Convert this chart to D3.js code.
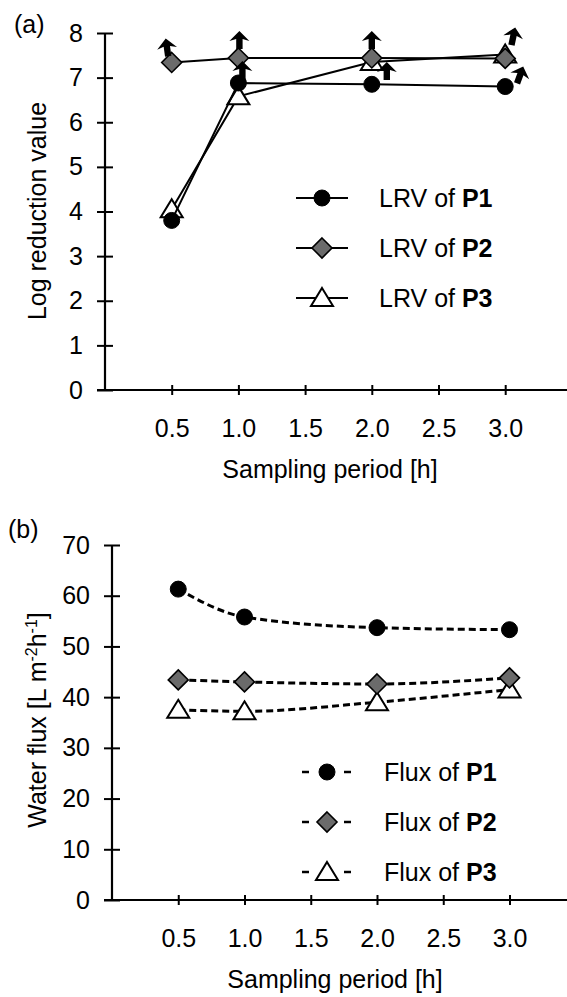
<!DOCTYPE html>
<html>
<head>
<meta charset="utf-8">
<script src="https://cdn.jsdelivr.net/npm/d3@7"></script>
<style>
  body { margin: 0; background: #fff; }
  text { font-family: "Liberation Sans", Arial, sans-serif; fill: #000; }
</style>
</head>
<body>
<svg id="chart" width="567" height="997"></svg>
<script>
// sampling periods [h]
var periods = [0.5, 1.0, 2.0, 3.0];
var xTicks = [0.5, 1.0, 1.5, 2.0, 2.5, 3.0];

// (a) log reduction values
var lrvP1 = [3.8, 6.88, 6.85, 6.8];
var lrvP2 = [7.34, 7.44, 7.44, 7.43];
var lrvP3 = [4.05, 6.58, 7.35, 7.52];
// values that are "greater than" (detection limit reached)
var moreP1 = [false, true, false, true];
var moreP2 = [true, true, true, true];
var moreP3 = [false, false, true, false];

// (b) water flux [L m-2 h-1]
var fluxP1 = [61.3, 55.8, 53.7, 53.3];
var fluxP2 = [43.4, 43.0, 42.6, 43.8];
var fluxP3 = [37.5, 37.2, 39.0, 41.5];

var svg = d3.select("#chart");

// marker drawing
function marker(g, type, cx, cy) {
  if (type == "circle") {
    g.append("circle").attr("cx", cx).attr("cy", cy).attr("r", 8)
      .attr("fill", "#000").attr("stroke", "#000");
  } else if (type == "diamond") {
    g.append("path").attr("transform", `translate(${cx},${cy})`)
      .attr("d", "M0,-10L10,0L0,10L-10,0Z")
      .attr("fill", "#6b6b6b").attr("stroke", "#000").attr("stroke-width", 1.6);
  } else {
    g.append("path").attr("transform", `translate(${cx},${cy})`)
      .attr("d", "M0,-10L11,8L-11,8Z")
      .attr("fill", "#fff").attr("stroke", "#000").attr("stroke-width", 2);
  }
}

function drawPanel(opt) {
  var g = svg.append("g");
  var x = d3.scaleLinear().domain([0, 3.5]).range([opt.x0, opt.x0 + 3.5 * opt.xUnit]);
  var y = d3.scaleLinear().domain([0, opt.yMax]).range([opt.yBottom, opt.yTop]);

  // y axis
  var yAxis = g.append("g").attr("transform", `translate(${opt.x0},0)`)
    .call(d3.axisLeft(y).tickValues(d3.range(0, opt.yMax + 1, opt.yStep)).tickSize(8).tickPadding(14));
  yAxis.select(".domain").remove();
  yAxis.selectAll(".tick line").attr("x1", 8).attr("stroke-width", 2);
  yAxis.selectAll(".tick text").attr("font-size", 25).style("font-family", "Liberation Sans, Arial, sans-serif");
  g.append("line").attr("x1", opt.x0).attr("x2", opt.x0)
    .attr("y1", y(0)).attr("y2", y(opt.yMax)).attr("stroke", "#000").attr("stroke-width", 2.2);

  // x axis
  var xAxis = g.append("g").attr("transform", `translate(0,${opt.yBottom})`)
    .call(d3.axisBottom(x).tickValues(xTicks).tickSize(5).tickPadding(24).tickFormat(d3.format(".1f")));
  xAxis.select(".domain").remove();
  xAxis.selectAll(".tick line").attr("y1", -5).attr("stroke-width", 2);
  xAxis.selectAll(".tick text").attr("font-size", 25).style("font-family", "Liberation Sans, Arial, sans-serif");
  g.append("line").attr("x1", opt.x0 - 8).attr("x2", 567)
    .attr("y1", y(0)).attr("y2", y(0)).attr("stroke", "#000").attr("stroke-width", 2.2);

  // titles
  g.append("text").attr("x", opt.xTitleX).attr("y", opt.yBottom + 88)
    .attr("text-anchor", "middle").attr("font-size", 25).text("Sampling period [h]");
  var yt = g.append("text")
    .attr("transform", `translate(${opt.yTitleX},${opt.yTitleY}) rotate(-90)`)
    .attr("text-anchor", "middle").attr("font-size", 25);
  opt.yTitle(yt);
  g.append("text").attr("x", opt.tagX).attr("y", opt.tagY).attr("font-size", 25).text(opt.tag);

  // series
  var line = d3.line().x((d, i) => x(periods[i])).y(d => y(d)).curve(opt.curve);
  opt.series.forEach(function(s) {
    g.append("path").attr("d", line(s.values)).attr("fill", "none")
      .attr("stroke", "#000").attr("stroke-width", opt.lineWidth)
      .attr("stroke-dasharray", opt.dash);
    s.values.forEach(function(v, i) { marker(g, s.type, x(periods[i]), y(v)); });
  });

  // arrows for values beyond detection limit
  (opt.arrows || []).forEach(function(a) {
    var s = opt.series.find(d => d.name == a.name);
    var i = periods.indexOf(a.period);
    if (!s.more[i]) return;
    g.append("path")
      .attr("transform", `translate(${x(periods[i]) + a.dx},${y(s.values[i]) + a.dy}) rotate(${a.rot || 0})`)
      .attr("d", "M0,0L10,10L3.2,8L3.2,18L-3.2,18L-3.2,8L-10,10Z")
      .attr("fill", "#000");
  });

  // legend
  var order = opt.series.slice().sort((a, b) => a.name < b.name ? -1 : 1);
  order.forEach(function(s, k) {
    var ly = opt.legY + k * 50, lx = opt.legX;
    if (opt.dash) {
      g.append("line").attr("x1", lx - 25).attr("x2", lx - 18).attr("y1", ly).attr("y2", ly)
        .attr("stroke", "#000").attr("stroke-width", 2.5);
      g.append("line").attr("x1", lx + 17).attr("x2", lx + 24).attr("y1", ly).attr("y2", ly)
        .attr("stroke", "#000").attr("stroke-width", 2.5);
    } else {
      g.append("line").attr("x1", lx - 26).attr("x2", lx + 26).attr("y1", ly).attr("y2", ly)
        .attr("stroke", "#000").attr("stroke-width", 2);
    }
    marker(g, s.type, lx, ly);
    var t = g.append("text").attr("x", lx + 57).attr("y", ly + 9).attr("font-size", 25);
    t.append("tspan").text(opt.legPrefix + " of ");
    t.append("tspan").attr("font-weight", "bold").text(s.name);
  });
}

drawPanel({
  tag: "(a)", tagX: 14, tagY: 33,
  x0: 105, xUnit: 133.4, yBottom: 390, yTop: 33, yMax: 8, yStep: 1,
  xTitleX: 330, yTitleX: 46, yTitleY: 211,
  yTitle: t => t.text("Log reduction value"),
  curve: d3.curveLinear, lineWidth: 2, dash: null,
  series: [
    { name: "P3", type: "triangle", values: lrvP3, more: moreP3 },
    { name: "P1", type: "circle", values: lrvP1, more: moreP1 },
    { name: "P2", type: "diamond", values: lrvP2, more: moreP2 }
  ],
  arrows: [
    { name: "P2", period: 0.5, dx: -6, dy: -24, rot: -8 },
    { name: "P2", period: 1.0, dx: 1, dy: -27 },
    { name: "P1", period: 1.0, dx: 4, dy: -22 },
    { name: "P2", period: 2.0, dx: 0, dy: -27 },
    { name: "P3", period: 2.0, dx: 15, dy: 0 },
    { name: "P2", period: 3.0, dx: 10, dy: -31, rot: 12 },
    { name: "P1", period: 3.0, dx: 18, dy: -20, rot: 20 }
  ],
  legX: 322, legY: 198, legPrefix: "LRV"
});

drawPanel({
  tag: "(b)", tagX: 8, tagY: 538,
  x0: 112, xUnit: 132.5, yBottom: 900, yTop: 545, yMax: 70, yStep: 10,
  xTitleX: 335, yTitleX: 46, yTitleY: 720,
  yTitle: function(t) {
    t.append("tspan").text("Water flux [L m");
    t.append("tspan").attr("font-size", 16).attr("dy", -9).text("-2");
    t.append("tspan").attr("dy", 9).text("h");
    t.append("tspan").attr("font-size", 16).attr("dy", -9).text("-1");
    t.append("tspan").attr("dy", 9).text("]");
  },
  curve: d3.curveMonotoneX, lineWidth: 3, dash: "7,4",
  series: [
    { name: "P3", type: "triangle", values: fluxP3, more: [] },
    { name: "P1", type: "circle", values: fluxP1, more: [] },
    { name: "P2", type: "diamond", values: fluxP2, more: [] }
  ],
  legX: 327, legY: 772, legPrefix: "Flux"
});
</script>
</body>
</html>
